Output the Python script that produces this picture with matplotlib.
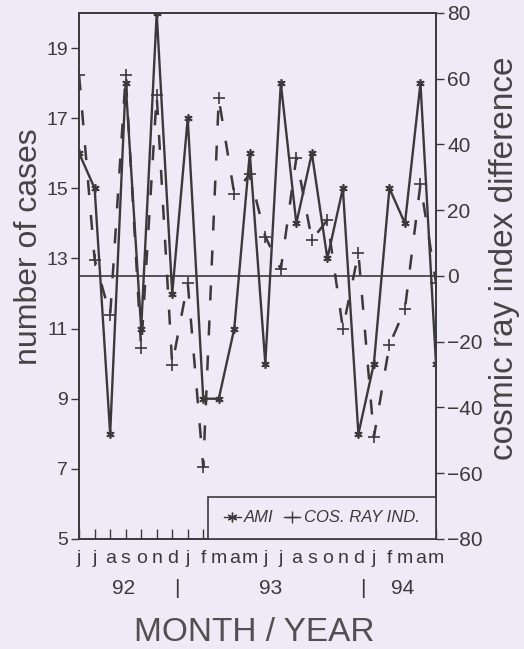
import numpy as np
import matplotlib.pyplot as plt
from matplotlib.lines import Line2D
from matplotlib.patches import Rectangle
import matplotlib.transforms as mtransforms

plt.rcParams['font.family'] = ['Liberation Sans', 'DejaVu Sans']

# monthly data, June 1992 .. May 1994
months = ['j', 'j', 'a', 's', 'o', 'n', 'd',
          'j', 'f', 'm', 'a', 'm', 'j', 'j', 'a', 's', 'o', 'n', 'd',
          'j', 'f', 'm', 'a', 'm']
years = [92] * 7 + [93] * 12 + [94] * 5
ami = [16, 15, 8, 18, 11, 20, 12, 17, 9, 9, 11, 16,
       10, 18, 14, 16, 13, 15, 8, 10, 15, 14, 18, 10]
cos_ray = [61, 5, -12, 61, -22, 55, -27, -2, -58, 54, 25, 31,
           12, 2, 36, 11, 17, -16, 7, -49, -21, -10, 28, -2]

bg = '#efebf6'
ink = '#3a3a3a'

fig = plt.figure(figsize=(5.24, 6.49), dpi=100, facecolor=bg)
ax = fig.add_axes([0.151, 0.1695, 0.681, 0.8105], facecolor=bg)
ax2 = ax.twinx()

x = np.arange(len(months))

ax2.plot(x, cos_ray, color=ink, lw=1.8, dashes=(6, 8), marker='+',
         markersize=8, markeredgewidth=1.2, zorder=2)
ax.plot(x, ami, color=ink, lw=1.7, marker=(6, 2, 0), markersize=6,
        markeredgewidth=1.2, zorder=3)
ax.set_zorder(ax2.get_zorder() + 1)
ax.patch.set_visible(False)
ax2.patch.set_facecolor(bg)

ax.set_xlim(0, len(months) - 1)
ax.set_ylim(5, 20)
ax2.set_ylim(-80, 80)
ax2.axhline(0, color=ink, lw=1.2, zorder=1)

ax.set_yticks(np.arange(5, 20, 2))
ax2.set_yticks(np.arange(-80, 81, 20))
ax.tick_params(axis='y', direction='out', length=6, width=1, colors=ink,
               labelsize=14, pad=2)
ax2.tick_params(axis='y', direction='out', length=6, width=1, colors=ink,
                labelsize=15, pad=2)

ax.set_xticks(x)
ax.set_xticklabels(months)
ax.tick_params(axis='x', direction='in', length=7, width=1, colors=ink,
               labelsize=14, pad=8)

for a in (ax, ax2):
    for s in a.spines.values():
        s.set_color(ink)
        s.set_linewidth(1.2)

# year row under the month letters
tr = mtransforms.blended_transform_factory(ax.transData, ax.transAxes)
yr_arr = np.array(years)
for yv in sorted(set(years)):
    idx = x[yr_arr == yv]
    ax.text(idx.mean() - 0.15, -0.095, str(yv), transform=tr, ha='center',
            va='center', fontsize=15, color=ink)
for b in x[1:][np.diff(yr_arr) != 0]:
    ax.text(b - 0.7, -0.095, '|', transform=tr, ha='center', va='center',
            fontsize=15, color=ink)

# legend box in the lower right corner
box = Rectangle((0.361, 0.0), 0.639, 0.08, transform=ax.transAxes,
                facecolor=bg, edgecolor=ink, lw=1.2, zorder=5)
ax.add_patch(box)
handles = [Line2D([], [], color=ink, lw=1, marker=(6, 2, 0), markersize=7),
           Line2D([], [], color=ink, lw=1, marker='+', markersize=9)]
leg = ax.legend(handles, ['AMI', 'COS. RAY IND.'], loc='center',
                bbox_to_anchor=(0.68, 0.04), ncol=2, frameon=False,
                handlelength=1.0, handletextpad=0.2, columnspacing=0.6,
                prop={'style': 'italic', 'size': 12})
leg.set_zorder(6)
for t in leg.get_texts():
    t.set_color(ink)

fig.text(0.055, 0.62, 'number of cases', rotation=90, ha='center',
         va='center', fontsize=23, color='#454545')
fig.text(0.962, 0.602, 'cosmic ray index difference', rotation=90,
         ha='center', va='center', fontsize=24, color='#454545')
fig.text(0.486, 0.026, 'MONTH / YEAR', ha='center', va='center',
         fontsize=24, color='#505050')

fig.savefig('out.png', dpi=100, facecolor=bg)
